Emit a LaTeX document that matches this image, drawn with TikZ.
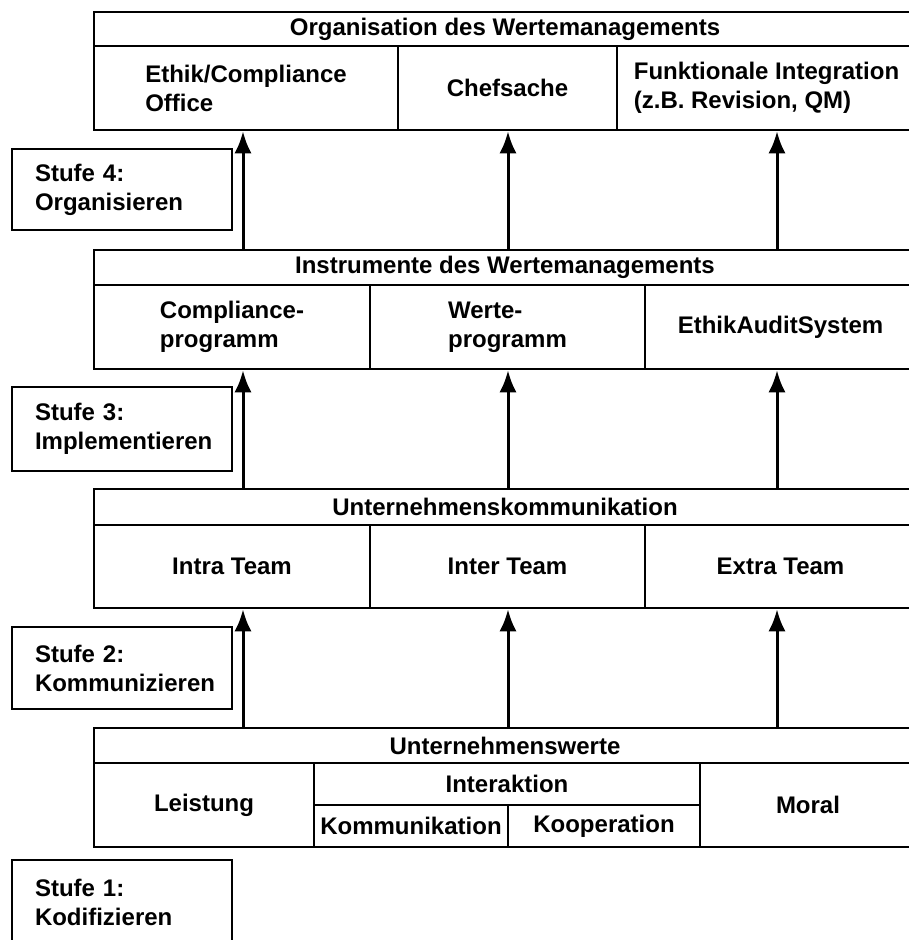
\documentclass[tikz,border=0pt]{standalone}
\usepackage{fontspec}
\setmainfont{Liberation Sans}
\usetikzlibrary{arrows.meta}

\begin{document}
\begin{tikzpicture}[x=1pt,y=-1pt,
		box/.style={draw, line width=2.5pt, inner sep=0pt, align=left,
			font=\bfseries\fontsize{24}{29}\selectfont},
		stufebox/.style={box, minimum width=220pt, text width=174pt},
		pfeil/.style={line width=3pt, -{Latex[length=22pt,width=17pt]}}]
		\useasboundingbox (0,0) rectangle (909,940);
		
		% Organisation
		\node[box, minimum width=822pt, minimum height=34pt] (orgkopf) at (505,29) {Organisation des Wertemanagements};
		\node[box, minimum width=304pt, minimum height=84pt] (org1) at (246,88) {Ethik/Compliance\\Office};
		\node[box, minimum width=219pt, minimum height=84pt] (org2) at (507.5,88) {Chefsache};
		\node[box, minimum width=299pt, minimum height=84pt] (org3) at (766.5,88) {Funktionale Integration\\(z.B. Revision, QM)};
		
		% Instrumente
		\node[box, minimum width=822pt, minimum height=35pt] (inskopf) at (505,267.5) {Instrumente des Wertemanagements};
		\node[box, minimum width=276pt, minimum height=84pt] (ins1) at (232,327) {Compliance-\\programm};
		\node[box, minimum width=275pt, minimum height=84pt] (ins2) at (507.5,327) {Werte-\\programm};
		\node[box, minimum width=271pt, minimum height=84pt] (ins3) at (780.5,327) {EthikAuditSystem};
		
		% Kommunikation
		\node[box, minimum width=822pt, minimum height=36pt] (komkopf) at (505,507) {Unternehmenskommunikation};
		\node[box, minimum width=276pt, minimum height=83pt] (kom1) at (232,566.5) {Intra Team};
		\node[box, minimum width=275pt, minimum height=83pt] (kom2) at (507.5,566.5) {Inter Team};
		\node[box, minimum width=271pt, minimum height=83pt] (kom3) at (780.5,566.5) {Extra Team};
		
		% Werte
		\node[box, minimum width=822pt, minimum height=35pt] (wertkopf) at (505,745.5) {Unternehmenswerte};
		\node[box, minimum width=220pt, minimum height=84pt] (wert1) at (204,805) {Leistung};
		\node[box, minimum width=386pt, minimum height=42pt] (wert2) at (507,784) {Interaktion};
		\node[box, minimum width=194pt, minimum height=42pt] (wert21) at (411,826) {Kommunikation};
		\node[box, minimum width=192pt, minimum height=42pt] (wert22) at (604,826) {Kooperation};
		\node[box, minimum width=216pt, minimum height=84pt] (wert3) at (808,805) {Moral};
		
		% Stufen
		\node[stufebox, minimum height=81pt] (stufe4) at (122,189.5) {Stufe 4:\\Organisieren};
		\node[stufebox, minimum height=84pt] (stufe3) at (122,429) {Stufe 3:\\Implementieren};
		\node[stufebox, minimum height=82pt] (stufe2) at (122,668) {Stufe 2:\\Kommunizieren};
		\node[stufebox, minimum height=84pt] (stufe1) at (122,902) {Stufe 1:\\Kodifizieren};
		
		% Pfeile
		\coordinate (p1) at (243,0);
		\coordinate (p2) at (508,0);
		\coordinate (p3) at (777,0);
		\draw[pfeil] (inskopf.north -| p1) -- (org1.south -| p1);
		\draw[pfeil] (inskopf.north -| p2) -- (org2.south -| p2);
		\draw[pfeil] (inskopf.north -| p3) -- (org3.south -| p3);
		\draw[pfeil] (komkopf.north -| p1) -- (ins1.south -| p1);
		\draw[pfeil] (komkopf.north -| p2) -- (ins2.south -| p2);
		\draw[pfeil] (komkopf.north -| p3) -- (ins3.south -| p3);
		\draw[pfeil] (wertkopf.north -| p1) -- (kom1.south -| p1);
		\draw[pfeil] (wertkopf.north -| p2) -- (kom2.south -| p2);
		\draw[pfeil] (wertkopf.north -| p3) -- (kom3.south -| p3);
	\end{tikzpicture}
\end{document}
